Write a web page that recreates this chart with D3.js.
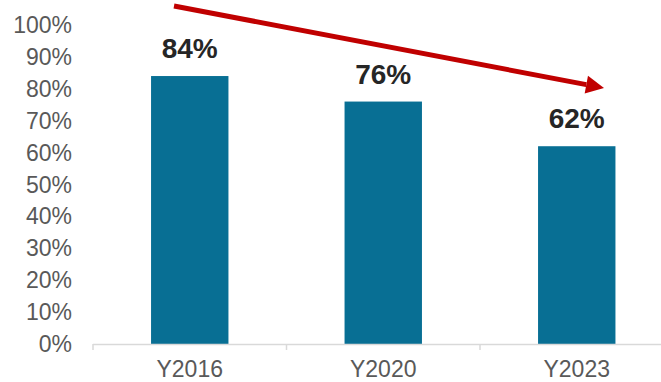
<!DOCTYPE html>
<html lang="en">
<head>
<meta charset="utf-8">
<title>Share by year</title>
<script src="https://d3js.org/d3.v7.min.js"></script>
<style>
  body { margin: 0; background: #fff; }
  text { font-family: "Liberation Sans", Arial, sans-serif; }
</style>
</head>
<body>
<script>
// data
var years = ["Y2016", "Y2020", "Y2023"];
var shares = [0.84, 0.76, 0.62];
var yTicks = [0, 0.1, 0.2, 0.3, 0.4, 0.5, 0.6, 0.7, 0.8, 0.9, 1.0];

var w = 661, h = 382;

var svg = d3.select("body").append("svg")
  .attr("width", w)
  .attr("height", h);

var xScale = d3.scaleBand()
  .domain(years)
  .range([93, 673.5])
  .paddingInner(0.6)
  .paddingOuter(0.3);

var yScale = d3.scaleLinear()
  .domain([0, 1])
  .range([344, 25]);

// y tick labels (no axis line)
svg.selectAll("text.ytick")
  .data(yTicks)
  .enter()
  .append("text")
  .attr("class", "ytick")
  .attr("x", 72)
  .attr("y", function (d) { return yScale(d); })
  .attr("dy", "0.35em")
  .attr("text-anchor", "end")
  .attr("font-size", "23px")
  .attr("fill", "#595959")
  .text(function (d) { return Math.round(d * 100) + "%"; });

// bars
svg.selectAll("rect.bar")
  .data(shares)
  .enter()
  .append("rect")
  .attr("class", "bar")
  .attr("x", function (d, i) { return xScale(years[i]); })
  .attr("y", function (d) { return yScale(d); })
  .attr("width", xScale.bandwidth())
  .attr("height", function (d) { return yScale(0) - yScale(d); })
  .attr("fill", "#086F94");

// x axis line and tick marks between categories
var step = xScale.step();
var x0 = xScale.range()[0];
svg.append("line")
  .attr("x1", x0).attr("x2", w)
  .attr("y1", yScale(0) + 0.5).attr("y2", yScale(0) + 0.5)
  .attr("stroke", "#d9d9d9")
  .attr("stroke-width", 1.5);

svg.selectAll("line.xtick")
  .data(d3.range(years.length + 1))
  .enter()
  .append("line")
  .attr("class", "xtick")
  .attr("x1", function (d) { return x0 + d * step; })
  .attr("x2", function (d) { return x0 + d * step; })
  .attr("y1", yScale(0))
  .attr("y2", yScale(0) + 6)
  .attr("stroke", "#d9d9d9")
  .attr("stroke-width", 1.5);

// x labels
svg.selectAll("text.xlab")
  .data(years)
  .enter()
  .append("text")
  .attr("class", "xlab")
  .attr("x", function (d) { return xScale(d) + xScale.bandwidth() / 2; })
  .attr("y", 377)
  .attr("text-anchor", "middle")
  .attr("font-size", "23px")
  .attr("fill", "#595959")
  .text(function (d) { return d; });

// value labels
svg.selectAll("text.val")
  .data(shares)
  .enter()
  .append("text")
  .attr("class", "val")
  .attr("x", function (d, i) { return xScale(years[i]) + xScale.bandwidth() / 2; })
  .attr("y", function (d) { return yScale(d) - 18; })
  .attr("text-anchor", "middle")
  .attr("font-size", "28px")
  .attr("font-weight", "bold")
  .attr("fill", "#262626")
  .text(function (d) { return Math.round(d * 100) + "%"; });

// trend arrow
var ax1 = 174, ay1 = 6, ax2 = 604, ay2 = 88;
var ang = Math.atan2(ay2 - ay1, ax2 - ax1);
var headLen = 18, headHalf = 9;
var bx = ax2 - headLen * Math.cos(ang), by = ay2 - headLen * Math.sin(ang);
svg.append("line")
  .attr("x1", ax1).attr("y1", ay1)
  .attr("x2", bx).attr("y2", by)
  .attr("stroke", "#C00000")
  .attr("stroke-width", 5);
svg.append("polygon")
  .attr("points", [
    [ax2, ay2],
    [bx + headHalf * Math.sin(ang), by - headHalf * Math.cos(ang)],
    [bx - headHalf * Math.sin(ang), by + headHalf * Math.cos(ang)]
  ].map(function (p) { return p.join(","); }).join(" "))
  .attr("fill", "#C00000");
</script>
</body>
</html>
